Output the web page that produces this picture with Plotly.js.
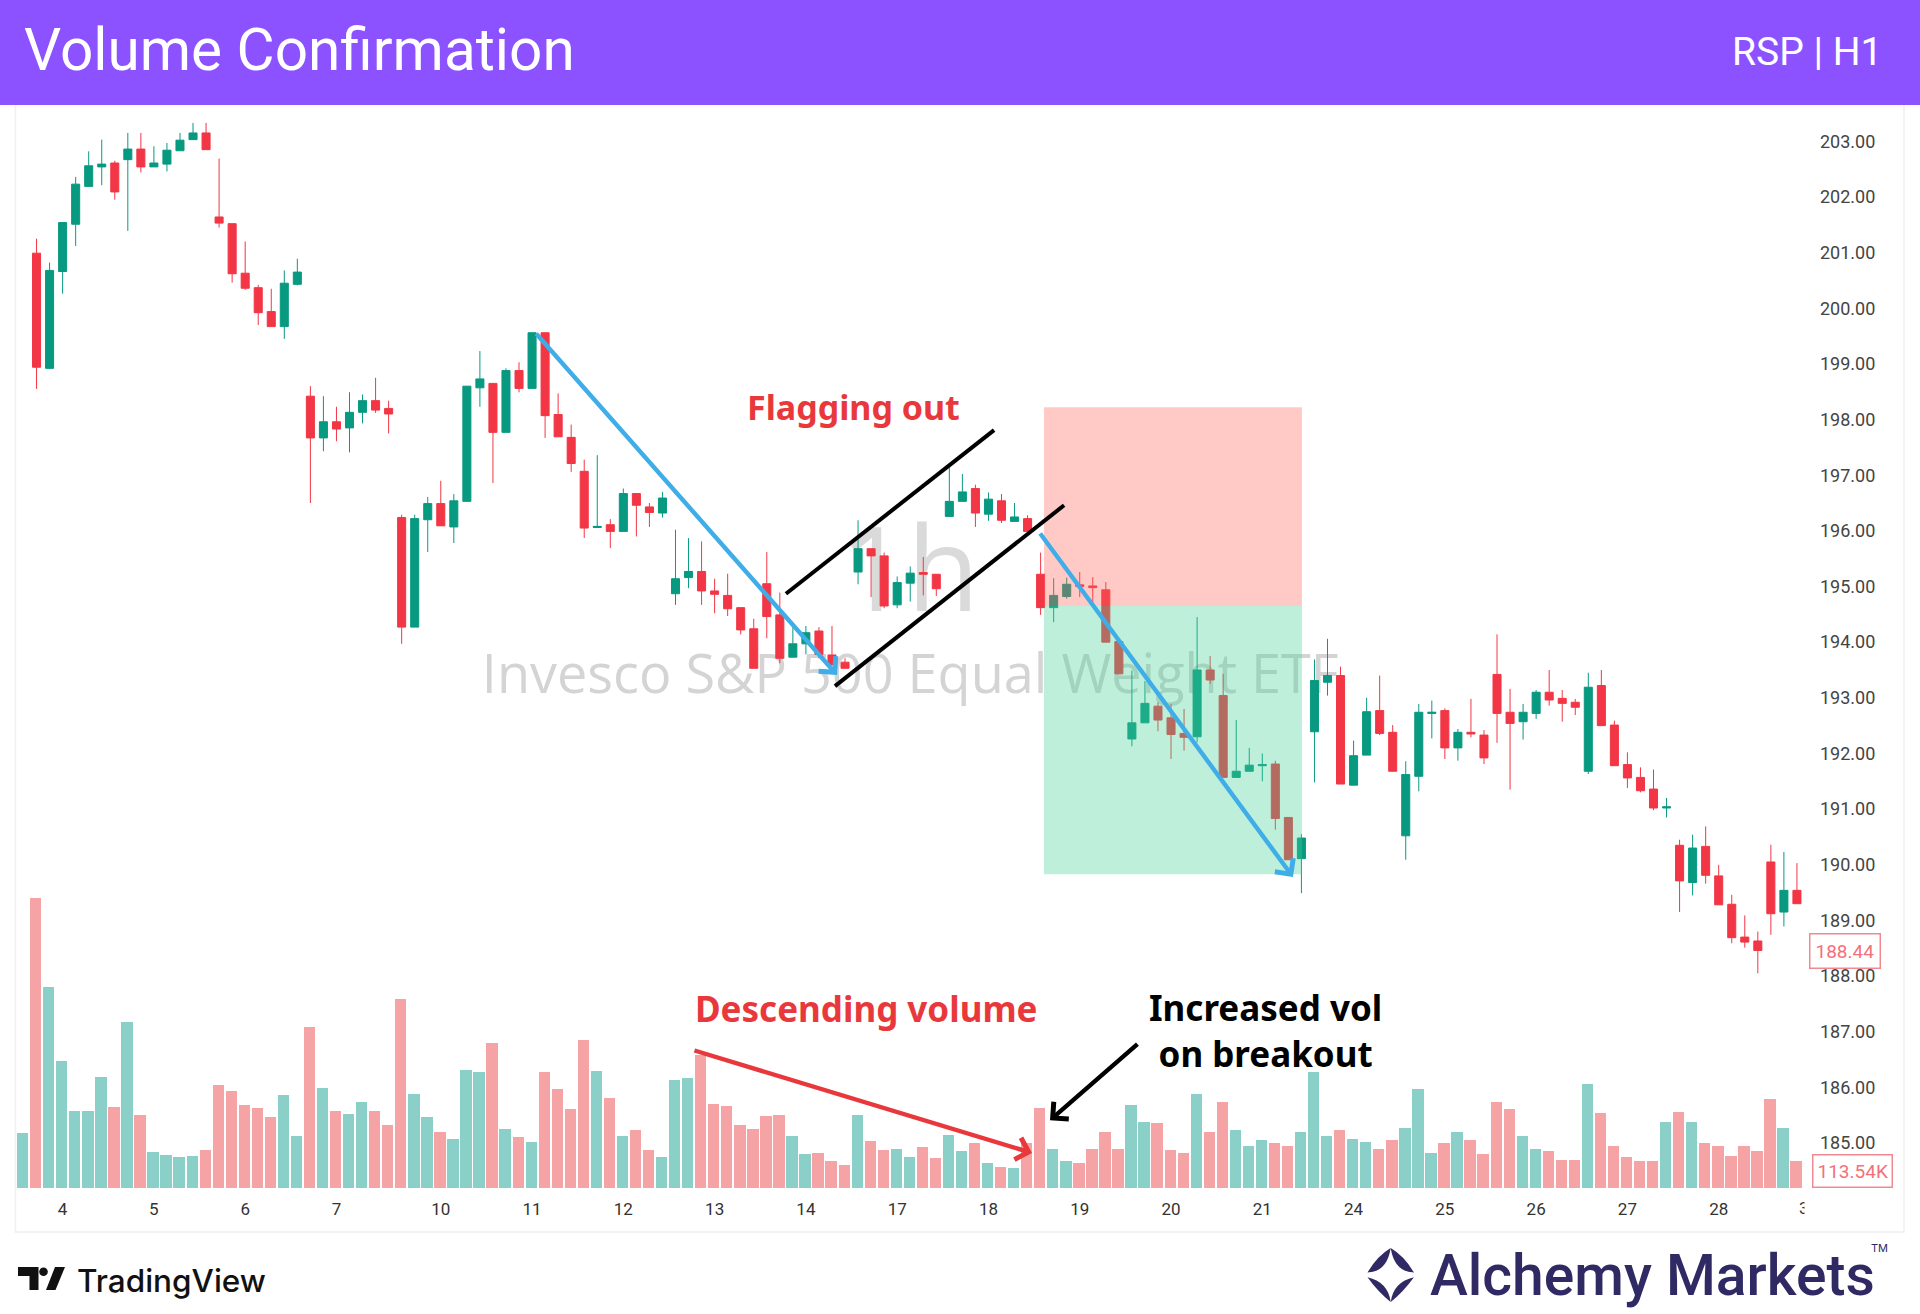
<!DOCTYPE html>
<html><head><meta charset="utf-8">
<script src="https://cdn.plot.ly/plotly-3.0.1.min.js"></script>
<style>html,body{margin:0;padding:0;background:#fff}#c{width:1920px;height:1314px}</style>
</head><body><div id="c"></div>
<script>
// ---------- data (one entry per hourly bar, index 0..136) ----------
const opens = [null,200.99,198.92,200.66,201.51,202.19,202.54,202.61,202.67,202.86,202.54,202.59,202.83,203.03,203.15,201.64,201.52,200.63,200.37,199.94,199.67,200.43,198.42,197.67,197.96,197.85,198.13,198.34,198.2,196.24,194.27,196.2,196.49,196.07,196.53,198.57,198.65,197.77,198.88,198.56,199.56,198.09,197.68,197.07,196.06,196.11,195.99,196.67,196.43,196.32,194.87,195.16,195.27,194.92,194.84,194.62,194.24,195.05,194.49,193.73,193.97,194.2,193.77,193.64,195.26,195.68,195.55,194.67,195.06,195.25,195.22,196.26,196.53,196.76,196.3,196.54,196.17,196.22,195.22,194.62,194.82,195.03,195.01,194.94,194.01,192.26,192.55,192.85,192.64,192.36,192.3,193.5,193.04,191.57,191.68,191.78,191.81,190.85,190.11,192.39,193.28,193.4,191.43,191.97,192.77,192.38,190.52,191.59,192.72,192.77,192.1,192.38,192.33,193.42,192.74,192.57,192.72,193.1,192.99,192.92,191.68,193.22,192.51,191.8,191.57,191.36,191.02,190.35,189.68,190.33,189.8,189.29,188.7,188.63,190.05,189.15,189.54];
const closes = [null,198.94,200.68,201.54,202.23,202.56,202.59,202.09,202.86,202.54,202.61,202.84,203.02,203.15,202.85,201.53,200.62,200.36,199.92,199.67,200.45,200.65,197.67,197.96,197.83,198.13,198.34,198.17,198.1,194.27,196.22,196.49,196.09,196.54,198.6,198.73,197.77,198.88,198.56,199.56,198.07,197.69,197.21,196.05,196.08,195.99,196.67,196.46,196.33,196.59,195.14,195.27,194.92,194.86,194.6,194.22,193.53,194.46,193.71,193.97,194.17,193.78,193.59,193.53,195.68,195.55,194.65,195.07,195.24,195.22,194.96,196.53,196.7,196.32,196.57,196.19,196.25,195.99,194.62,194.84,195.04,195.0,194.98,194.0,193.43,192.55,192.9,192.6,192.34,192.29,193.5,193.32,191.57,191.68,191.79,191.8,190.83,190.09,190.48,193.31,193.4,191.45,191.96,192.75,192.36,191.68,191.62,192.74,192.74,192.1,192.38,192.35,191.92,192.72,192.54,192.74,193.1,192.96,192.9,192.83,193.19,192.5,191.78,191.56,191.33,191.02,191.04,189.71,190.3,189.81,189.28,188.69,188.61,188.46,189.12,189.54,189.3];
const highs = [null,201.25,200.82,201.54,202.36,202.82,203.03,202.65,203.15,203.15,202.91,202.97,203.15,203.33,203.33,202.69,201.52,201.2,200.42,200.35,200.68,200.89,198.6,198.42,198.23,198.49,198.45,198.75,198.34,196.29,196.29,196.61,196.9,196.66,198.6,199.23,198.65,198.92,199.03,199.56,199.56,198.47,197.91,197.28,197.36,196.21,196.76,196.67,196.5,196.7,196.02,195.87,195.81,195.14,195.23,194.62,194.42,195.62,194.89,194.26,194.29,194.27,194.29,193.71,196.19,195.68,195.61,195.18,195.36,195.53,195.22,197.15,197.02,196.83,196.69,196.66,196.5,196.28,195.61,195.15,195.16,195.26,195.17,195.08,194.01,193.49,193.3,192.92,192.89,192.8,194.45,193.75,193.43,192.6,192.1,192.0,191.87,190.85,190.55,193.69,194.06,193.56,192.23,193.0,193.4,192.51,191.86,192.89,192.95,192.81,192.44,192.98,192.42,194.14,193.16,192.89,193.14,193.5,193.14,192.98,193.45,193.5,192.59,192.02,191.75,191.71,191.2,190.45,190.54,190.69,190.0,189.46,189.09,188.8,190.36,190.23,190.03];
const lows = [null,198.55,198.92,200.26,201.12,202.19,202.21,201.95,201.39,202.44,202.54,202.46,202.83,203.03,202.85,201.45,200.46,200.33,199.7,199.67,199.45,200.41,196.5,197.43,197.61,197.41,197.93,198.12,197.75,193.97,194.27,195.62,196.09,195.78,196.53,198.23,196.86,197.77,198.49,198.56,197.67,197.69,197.06,195.87,196.06,195.69,195.99,195.9,196.07,196.24,194.67,194.97,194.67,194.52,194.47,194.14,193.53,194.07,193.62,193.73,193.78,193.71,193.59,193.53,195.04,194.81,194.61,194.61,194.73,194.84,194.83,196.26,196.53,196.07,196.18,196.14,196.17,195.96,194.49,194.36,194.78,194.81,194.71,194.0,193.43,192.13,192.55,192.4,191.9,192.05,192.2,193.25,191.57,191.57,191.68,191.5,190.63,190.09,189.49,191.48,193.04,191.45,191.43,191.97,192.33,191.68,190.09,191.32,192.27,191.9,191.87,192.29,191.81,192.19,191.35,192.25,192.62,192.86,192.57,192.69,191.63,192.5,191.78,191.38,191.3,190.98,190.85,189.15,189.45,189.66,189.28,188.59,188.51,188.05,188.74,188.89,189.3];
const volumes = [233,1237,860,541,329,329,475,347,710,312,155,142,131,137,161,438,416,354,342,305,397,222,686,425,330,317,366,330,269,807,403,305,239,209,505,494,620,252,216,198,494,421,336,632,498,384,222,246,162,132,462,468,568,360,349,270,253,306,313,222,144,151,115,97,313,199,162,168,132,175,127,228,157,192,108,90,84,192,343,168,115,108,168,239,168,356,283,277,162,151,403,239,367,246,181,205,192,181,240,494,222,246,211,198,168,203,258,421,149,192,240,203,144,367,337,222,168,157,121,121,445,319,181,132,114,114,283,324,283,192,181,138,181,157,380,258,113.54];
// 1 = teal volume bar, 0 = pink volume bar
const volumeUp = [1,0,1,1,1,1,1,0,1,0,1,1,1,1,0,0,0,0,0,0,1,1,0,1,0,1,1,0,0,0,1,1,0,1,1,1,0,1,0,1,0,0,0,0,1,0,1,0,0,1,1,1,0,0,0,0,0,0,0,1,1,0,0,0,1,0,0,1,1,0,0,1,1,0,1,0,1,0,0,1,1,0,0,0,0,1,1,0,0,0,1,0,0,1,1,1,0,0,1,1,1,0,1,1,0,0,1,1,1,0,1,0,0,0,0,1,1,0,0,0,1,0,0,0,0,0,1,0,1,0,0,0,0,0,0,1,0];
const dayLabels = ['4','5','6','7','10','11','12','13','14','17','18','19','20','21','24','25','26','27','28'];
const dayBars = [3,10,17,24,32,39,46,53,60,67,74,81,88,95,102,109,116,123,130];
const priceTicks = [185,186,187,188,189,190,191,192,193,194,195,196,197,198,199,200,201,202,203];
const barIndex = volumes.map((_, i) => i);

// annotation geometry in data units (bar index, price)
const riskZone = {x0:78.26, x1:98.04, top:198.22, mid:194.65, bottom:189.83};
const trendArrows = [
  {x0:39.22, y0:199.57, x1:62.39, y1:193.41, color:'#3FAEE8'},
  {x0:77.88, y0:195.98, x1:97.35, y1:189.78, color:'#3FAEE8'},
  {x0:51.34, y0:186.67, x1:77.34, y1:184.82, color:'#E9383C'},
  {x0:85.54, y0:186.8,  x1:78.72, y1:185.41, color:'#000000'}
];
const flagLines = [
  {x0:58.47, y0:194.87, x1:74.43, y1:197.81},
  {x0:62.23, y0:193.21, x1:79.8,  y1:196.46}
];

// ---------- page geometry ----------
const W = 1920, H = 1314;
const PITCH = 13.04, ORIGIN = 23.5;
const px = x => x / W, py = y => 1 - y / H;
const pathOf = pts => 'M' + pts.map(p => px(p[0]).toFixed(5) + ',' + py(p[1]).toFixed(5)).join(' L') + ' Z';
const curve = (segs) => segs.map(s => s[0] + s.slice(1).map(p => px(p[0]).toFixed(5) + ',' + py(p[1]).toFixed(5)).join(' ')).join(' ') + ' Z';

const UP = '#089981', DOWN = '#F23645';

const traces = [
  {type:'bar', x:barIndex, y:volumes, xaxis:'x', yaxis:'y', width:0.87, offset:-0.50, hoverinfo:'skip',
   marker:{color:volumeUp.map(v => v ? '#8AD0C8' : '#F6A3A5'), line:{width:0}}, showlegend:false},
  {type:'scatter', mode:'text', x:[68.0, 67.95], y:[2170, 2590], xaxis:'x', yaxis:'y', hoverinfo:'skip', showlegend:false,
   text:['Invesco S&P 500 Equal Weight ETF','1h'],
   textposition:'middle center',
   textfont:{family:'Open Sans', size:[54,118], color:['#d4d4d4','#dadada']}},
  {type:'candlestick', x:barIndex, open:opens, high:highs, low:lows, close:closes, xaxis:'x', yaxis:'y2',
   whiskerwidth:0, hoverinfo:'skip', showlegend:false,
   increasing:{line:{color:UP, width:1}, fillcolor:UP},
   decreasing:{line:{color:DOWN, width:1}, fillcolor:DOWN}}
];

const wing = (pts) => ({type:'path', xref:'paper', yref:'paper', layer:'above', line:{width:0}, fillcolor:'#2F2A63', path:curve(pts)});
const shapes = [
  {type:'rect', xref:'x', yref:'y2', x0:riskZone.x0, x1:riskZone.x1, y0:riskZone.mid, y1:riskZone.top, layer:'above', line:{width:0}, fillcolor:'rgba(255,100,92,0.35)'},
  {type:'rect', xref:'x', yref:'y2', x0:riskZone.x0, x1:riskZone.x1, y0:riskZone.bottom, y1:riskZone.mid, layer:'above', line:{width:0}, fillcolor:'rgba(66,209,148,0.35)'},
  // chart frame
  {type:'rect', xref:'paper', yref:'paper', x0:px(15.5), x1:px(1904), y0:py(1232), y1:py(100), layer:'below', line:{width:1.5, color:'#f0f0f0'}, fillcolor:'rgba(0,0,0,0)'},
  // header band
  {type:'rect', xref:'paper', yref:'paper', x0:0, x1:1, y0:py(105), y1:1, layer:'below', line:{width:0}, fillcolor:'#8C52FF'},
  // TradingView mark
  {type:'path', xref:'paper', yref:'paper', layer:'above', line:{width:0}, fillcolor:'#111',
   path:pathOf([[18,1267],[38.5,1267],[38.5,1290],[29.5,1290],[29.5,1276],[18,1276]])},
  {type:'path', xref:'paper', yref:'paper', layer:'above', line:{width:0}, fillcolor:'#111',
   path:pathOf([[55,1267],[65,1267],[55.5,1290],[46,1290]])},
  {type:'circle', xref:'paper', yref:'paper', layer:'above', line:{width:0}, fillcolor:'#111',
   x0:px(39.2), x1:px(47.8), y0:py(1276), y1:py(1267.4)},
  // Alchemy mark
  wing([['M',[1390.7,1248]],['Q',[1377,1256],[1367.5,1272.5]],['Q',[1387,1272],[1390.7,1248]]]),
  wing([['M',[1390.7,1248]],['Q',[1404.4,1256],[1413.9,1272.5]],['Q',[1394.4,1272],[1390.7,1248]]]),
  wing([['M',[1367.5,1277.3]],['Q',[1378,1292],[1390.7,1302]],['Q',[1388,1282],[1367.5,1277.3]]]),
  wing([['M',[1413.9,1277.3]],['Q',[1403.4,1292],[1390.7,1302]],['Q',[1393.4,1282],[1413.9,1277.3]]])
];
flagLines.forEach(l => shapes.push({type:'line', xref:'x', yref:'y2', x0:l.x0, y0:l.y0, x1:l.x1, y1:l.y1, layer:'above', line:{color:'#000', width:4}}));

const note = (t, x, y, size, color, extra) => Object.assign({
  text:t, xref:'paper', yref:'paper', x:px(x), y:py(y), xanchor:'center', yanchor:'middle',
  showarrow:false, font:{family:'Noto Sans', size:size, color:color}}, extra || {});

const annotations = [
  note('Volume Confirmation', 22, 50, 58.5, '#fff', {xanchor:'left', font:{family:'Roboto', size:58.5, color:'#fff', weight:400}}),
  note('RSP | H1', 1884, 52, 39, '#fff', {xanchor:'right', font:{family:'Roboto', size:39, color:'#fff', weight:400}}),
  note('Flagging out', 853, 407, 34, '#E9383C', {font:{family:'Noto Sans', size:34, color:'#E9383C', weight:700}}),
  note('Descending volume', 866, 1008, 35, '#E9383C', {font:{family:'Noto Sans', size:35, color:'#E9383C', weight:700}}),
  note('Increased vol<br>on breakout', 1265, 1030, 35, '#000', {font:{family:'Noto Sans', size:35, color:'#000', weight:700}}),
  note('188.44', 1845, 951, 19, '#F4707A', {bgcolor:'#fff', bordercolor:'#F08A90', borderwidth:1.5, borderpad:5, font:{family:'Roboto', size:19, color:'#F4707A'}}),
  note('113.54K', 1852, 1171, 19, '#F4707A', {bgcolor:'#fff', bordercolor:'#F08A90', borderwidth:1.5, borderpad:4, font:{family:'Roboto', size:19, color:'#F4707A'}}),
  note('3', 1804, 1208, 17, '#333', {font:{family:'Roboto', size:17, color:'#333'}}),
  note('      ', 1821, 1208, 20, '#fff', {bgcolor:'#fff', xanchor:'center'}),
  note('TradingView', 75, 1280, 31.5, '#111', {xanchor:'left', font:{family:'Inter', size:31.5, color:'#111', weight:500}}),
  note('Alchemy Markets', 1427.5, 1275, 57, '#2F2A63', {xanchor:'left', font:{family:'Roboto', size:57, color:'#2F2A63', weight:500}}),
  note('TM', 1879, 1248, 11, '#2F2A63', {font:{family:'Inter', size:11, color:'#2F2A63'}})
];
trendArrows.forEach(a => annotations.push({
  xref:'x', yref:'y2', axref:'x', ayref:'y2', x:a.x1, y:a.y1, ax:a.x0, ay:a.y0, text:'', showarrow:true,
  arrowhead:4, arrowsize:1, arrowwidth:4.4, arrowcolor:a.color, standoff:0, startstandoff:0
}));

const layout = {
  width:W, height:H, autosize:false, margin:{l:0,r:0,t:0,b:0,pad:0},
  paper_bgcolor:'#fff', plot_bgcolor:'rgba(0,0,0,0)', showlegend:false, dragmode:false,
  boxgap:0.12, bargap:0,
  xaxis:{domain:[px(15.5), px(1805)], range:[(15.5-ORIGIN)/PITCH, (1805-ORIGIN)/PITCH], type:'linear', showgrid:false, zeroline:false,
    showline:false, ticks:'', tickmode:'array', tickvals:dayBars, ticktext:dayLabels, ticklabelstandoff:9,
    tickfont:{family:'Roboto', size:17, color:'#333'}, rangeslider:{visible:false}, anchor:'y', fixedrange:true},
  yaxis:{domain:[py(1188), py(105)], range:[0, (1188-105)*4.27], showgrid:false, zeroline:false, showticklabels:false, ticks:'', showline:false, fixedrange:true},
  yaxis2:{domain:[py(1188), py(105)], overlaying:'y', side:'right', anchor:'x',
    range:[185-(1188-1143)/55.65, 185+(1143-105)/55.65], showgrid:false, zeroline:false, showline:false, ticks:'',
    tickmode:'array', tickvals:priceTicks, ticktext:priceTicks.map(v => v.toFixed(2)), ticklabelstandoff:14,
    tickfont:{family:'Roboto', size:18, color:'#444'}, fixedrange:true},
  shapes, annotations
};
Plotly.newPlot('c', traces, layout, {displayModeBar:false, staticPlot:true, responsive:false});
</script></body></html>
